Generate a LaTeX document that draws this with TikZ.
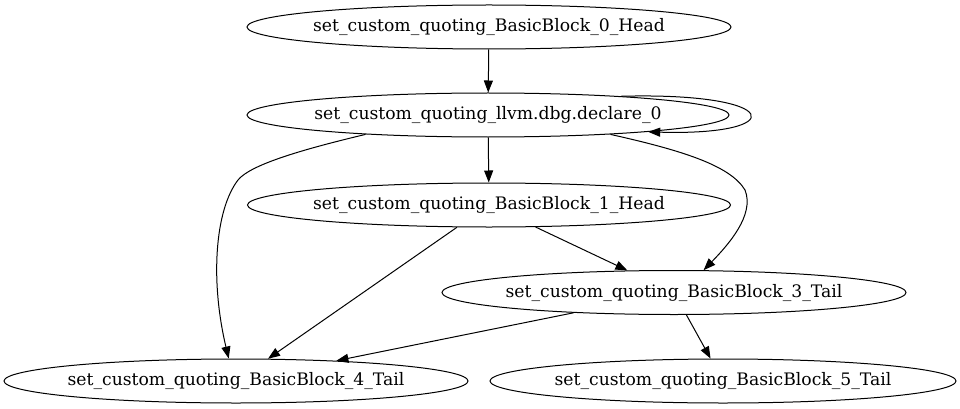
\documentclass[tikz,border=0pt]{standalone}
\usepackage{fontspec}
\setmainfont{DejaVu Serif}
\usetikzlibrary{shapes.geometric,arrows.meta}
\newcommand{\lbl}[1]{\makebox[0pt]{#1}}
\begin{document}
\begin{tikzpicture}[x=1pt,y=-1pt,
  blk/.style={draw, ellipse, inner sep=0pt, minimum height=44pt, line width=1pt,
    font=\fontsize{17.2}{20}\selectfont},
  edg/.style={line width=1pt, -{Triangle[length=12pt,width=9pt]}}]
\useasboundingbox (0,0) rectangle (960,409);
\node[blk, minimum width=484pt] (bb0) at (489,27) {\lbl{set\_custom\_quoting\_BasicBlock\_0\_Head}};
\node[blk, minimum width=482pt] (dbg) at (488,115) {\lbl{set\_custom\_quoting\_llvm.dbg.declare\_0}};
\node[blk, minimum width=483pt] (bb1) at (489,205) {\lbl{set\_custom\_quoting\_BasicBlock\_1\_Head}};
\node[blk, minimum width=464pt] (bb3) at (674,292.5) {\lbl{set\_custom\_quoting\_BasicBlock\_3\_Tail}};
\node[blk, minimum width=464pt] (bb4) at (236,381) {\lbl{set\_custom\_quoting\_BasicBlock\_4\_Tail}};
\node[blk, minimum width=466pt] (bb5) at (723,381) {\lbl{set\_custom\_quoting\_BasicBlock\_5\_Tail}};
% edges
\draw[edg] (bb0) -- (dbg);
\draw[edg] (dbg.8) .. controls (785,92) and (790,136) .. (dbg.-6);
\draw[edg] (dbg) -- (bb1);
\draw[edg] (dbg.189) .. controls (300,150) and (250,165) .. (238,180)
   .. controls (215,210) and (210,280) .. (bb4.108);
\draw[edg] (dbg.-9) .. controls (680,150) and (730,165) .. (745,190)
   .. controls (755,215) and (728,245) .. (bb3.37);
\draw[edg] (bb1) -- (bb3);
\draw[edg] (bb1) -- (bb4);
\draw[edg] (bb3) -- (bb4);
\draw[edg] (bb3) -- (bb5);
\end{tikzpicture}
\end{document}
